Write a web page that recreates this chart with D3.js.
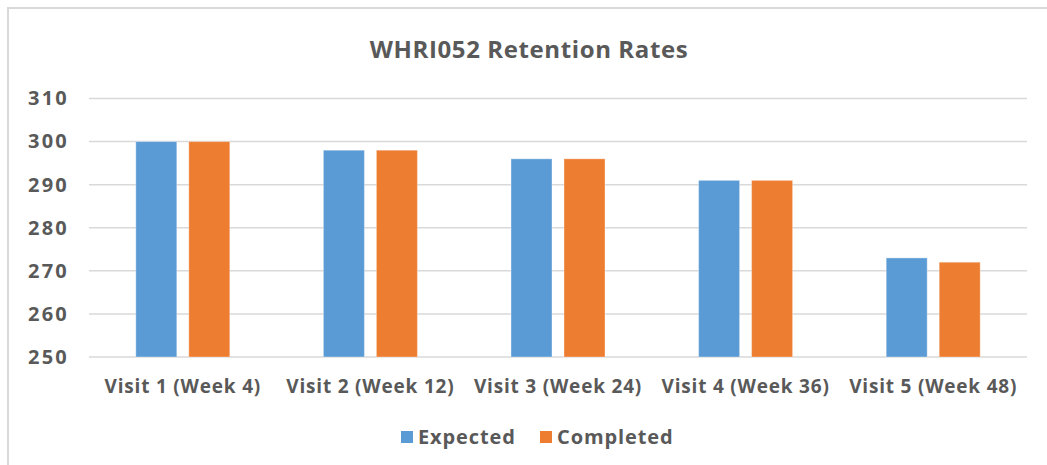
<!DOCTYPE html>
<html>
<head>
<meta charset="utf-8">
<script src="https://cdn.jsdelivr.net/npm/d3@7"></script>
<style>
html,body{margin:0;padding:0;background:#fff;}
svg{display:block;}
text{font-family:"Open Sans","DejaVu Sans",sans-serif;font-weight:bold;fill:#595959;}
</style>
</head>
<body>
<svg id="chart" width="1047" height="465"></svg>
<script>
const categories = ["Visit 1 (Week 4)", "Visit 2 (Week 12)", "Visit 3 (Week 24)", "Visit 4 (Week 36)", "Visit 5 (Week 48)"];
const seriesNames = ["Expected", "Completed"];
const expected = [300, 298, 296, 291, 273];
const completed = [300, 298, 296, 291, 272];
const yTicks = [250, 260, 270, 280, 290, 300, 310];
const colors = ["#5b9bd5", "#ed7d31"];
const title = "WHRI052 Retention Rates";

const svg = d3.select("#chart");

// chart frame
svg.append("path")
  .attr("d", "M8,470 L8,8 L1060,8")
  .attr("fill", "none").attr("stroke", "#d9d9d9").attr("stroke-width", 2);

const plot = {left: 89, right: 1027, top: 98.5, bottom: 357};

const x0 = d3.scaleBand().domain(categories).range([plot.left, plot.right]).paddingInner(0).paddingOuter(0);
const y = d3.scaleLinear().domain([250, 310]).range([plot.bottom, plot.top]);

// gridlines
svg.append("g").selectAll("line").data(yTicks).join("line")
  .attr("x1", plot.left).attr("x2", plot.right)
  .attr("y1", d => y(d)).attr("y2", d => y(d))
  .attr("stroke", "#d9d9d9").attr("stroke-width", 1.5);

const fam = '"Open Sans","DejaVu Sans",sans-serif';

// y axis labels
const yAxis = d3.axisLeft(y).tickValues(yTicks).tickSize(0).tickPadding(0).tickFormat(d3.format("d"));
const yg = svg.append("g").attr("transform", `translate(69,0)`).call(yAxis);
yg.select(".domain").remove();
yg.selectAll("text").attr("font-size", 20).attr("fill", "#595959")
  .style("letter-spacing", "2.2px")
  .style("font-family", fam).style("font-weight", "bold");

// bars
const barW = 41, gap = 12;
const x1 = d3.scaleOrdinal().domain(seriesNames).range([-(gap/2 + barW), gap/2]);
const data = categories.map((c, i) => ({c, vals: [expected[i], completed[i]]}));
const grp = svg.append("g").selectAll("g").data(data).join("g")
  .attr("transform", d => `translate(${x0(d.c) + x0.bandwidth()/2},0)`);
grp.selectAll("rect").data(d => d.vals.map((v, j) => ({s: seriesNames[j], v, j}))).join("rect")
  .attr("x", d => x1(d.s))
  .attr("width", barW)
  .attr("y", d => y(d.v))
  .attr("height", d => y(250) - y(d.v))
  .attr("fill", d => colors[d.j])
  .attr("stroke", "#ffffff").attr("stroke-opacity", 0.35).attr("stroke-width", 1);

// x axis labels
const xAxis = d3.axisBottom(x0).tickSize(0).tickPadding(0);
const xg = svg.append("g").attr("transform", `translate(0,${plot.bottom + 36})`).call(xAxis);
xg.select(".domain").remove();
xg.selectAll("text").attr("font-size", 19).attr("fill", "#595959").attr("dy", 0)
  .style("letter-spacing", "0.8px")
  .style("font-family", fam).style("font-weight", "bold");

// title
svg.append("text").attr("x", 529).attr("y", 58).attr("text-anchor", "middle")
  .attr("font-size", 24).style("letter-spacing", "0.6px").text(title);

// legend
const legendItems = [{name: seriesNames[0], x: 401}, {name: seriesNames[1], x: 540}];
const lg = svg.append("g").selectAll("g").data(legendItems).join("g")
  .attr("transform", d => `translate(${d.x},431)`);
lg.append("rect").attr("width", 12).attr("height", 12).attr("fill", (d, i) => colors[i]);
lg.append("text").attr("x", 17).attr("y", 13).attr("font-size", 20)
  .style("letter-spacing", "0.9px").text(d => d.name);
</script>
</body>
</html>
